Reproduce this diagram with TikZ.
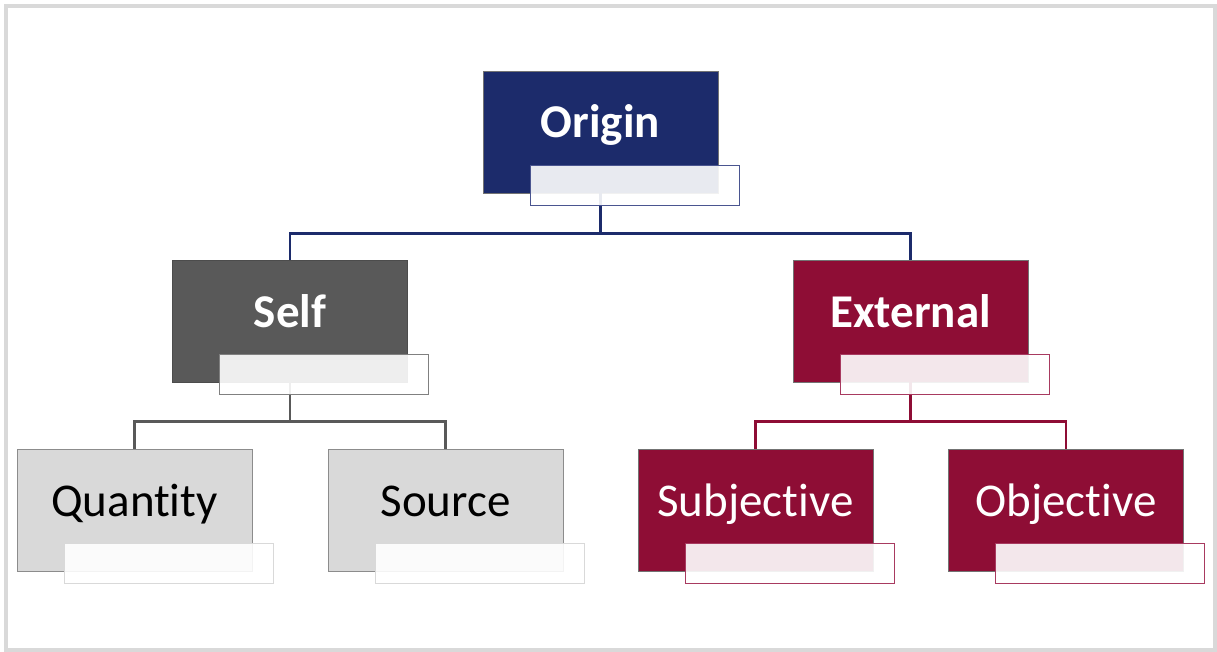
\documentclass[tikz,border=0pt]{standalone}
\usepackage{fontspec}
\setmainfont[Ligatures=NoCommon]{Carlito}
\definecolor{navy}{HTML}{1C2B6B}
\definecolor{navyline}{HTML}{4A5590}
\definecolor{darkgrey}{HTML}{595959}
\definecolor{maroon}{HTML}{8E0D35}
\definecolor{maroonline}{HTML}{A83A60}
\definecolor{lightgrey}{HTML}{D9D9D9}
\definecolor{framegrey}{HTML}{D9D9D9}
\begin{document}
\begin{tikzpicture}[x=1pt,y=-1pt,
  box/.style={rectangle, minimum width=235pt, minimum height=122pt, inner sep=0pt,
    text height=20pt, text depth=8pt, font=\fontsize{47}{50}\selectfont, line width=0.8pt},
  topbox/.style={box, fill=navy, draw=black!55, text=white, font=\fontsize{47}{50}\selectfont\bfseries},
  selfbox/.style={box, fill=darkgrey, draw=black!70, text=white, font=\fontsize{47}{50}\selectfont\bfseries},
  extbox/.style={box, fill=maroon, draw=black!55, text=white, font=\fontsize{47}{50}\selectfont\bfseries},
  greybox/.style={box, fill=lightgrey, draw=black!45, text=black},
  redbox/.style={box, fill=maroon, draw=black!55, text=white},
  tab/.style={rectangle, minimum width=209pt, minimum height=40pt, inner sep=0pt,
    fill=white, fill opacity=0.9, line width=1.4pt, anchor=south east},
  link/.style={line width=2.4pt}
]
\useasboundingbox (0,0) rectangle (1217,652);
\draw[framegrey, line width=4pt] (6,6) rectangle (1215,650);

% boxes
\node[topbox] (origin) at (600.5,132) {Origin};
\node[selfbox] (self) at (290,321) {Self};
\node[extbox] (external) at (910.5,321) {External};
\node[greybox] (quantity) at (134.5,510) {Quantity};
\node[greybox] (source) at (445.5,510) {Source};
\node[redbox] (subjective) at (755.5,510) {Subjective};
\node[redbox] (objective) at (1066,510) {Objective};

% connectors
\draw[link, navy] (origin.south) -- ++(0,40) -| (self.north);
\draw[link, navy] (origin.south) -- ++(0,40) -| (external.north);
\draw[link, darkgrey] (self.south) -- ++(0,39) -| (quantity.north);
\draw[link, darkgrey] (self.south) -- ++(0,39) -| (source.north);
\draw[link, maroon] (external.south) -- ++(0,39) -| (subjective.north);
\draw[link, maroon] (external.south) -- ++(0,39) -| (objective.north);

% label tabs
\node[tab, draw=navyline] (origin-tab) at ([xshift=21.5pt,yshift=-13pt]origin.south east) {};
\node[tab, draw=black!50] (self-tab) at ([xshift=21.5pt,yshift=-13pt]self.south east) {};
\node[tab, draw=maroonline] (external-tab) at ([xshift=21.5pt,yshift=-13pt]external.south east) {};
\node[tab, draw=lightgrey] (quantity-tab) at ([xshift=21.5pt,yshift=-13pt]quantity.south east) {};
\node[tab, draw=lightgrey] (source-tab) at ([xshift=21.5pt,yshift=-13pt]source.south east) {};
\node[tab, draw=maroonline] (subjective-tab) at ([xshift=21.5pt,yshift=-13pt]subjective.south east) {};
\node[tab, draw=maroonline] (objective-tab) at ([xshift=21.5pt,yshift=-13pt]objective.south east) {};
\end{tikzpicture}
\end{document}
